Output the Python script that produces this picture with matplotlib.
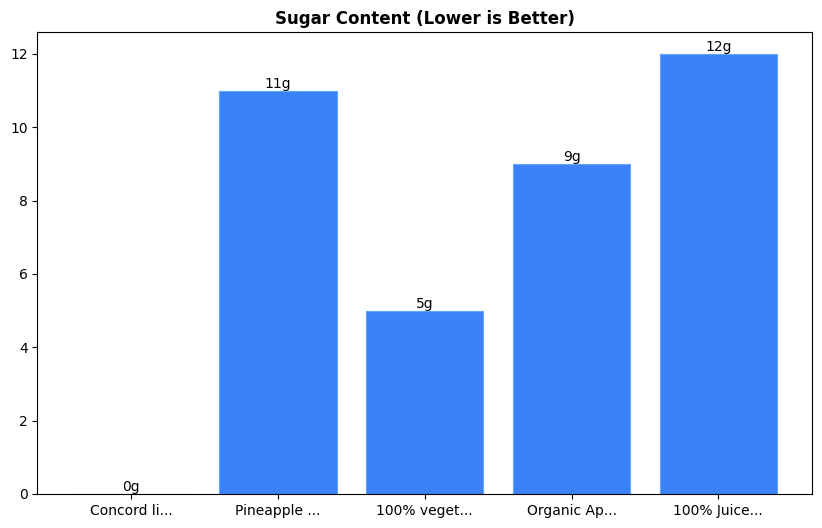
import matplotlib
matplotlib.use("Agg")
import matplotlib.pyplot as plt

# Chart data
products = ["Concord li...", "Pineapple ...", "100% veget...", "Organic Ap...", "100% Juice..."]
sugar = [0, 11, 5, 9, 12]

fig, ax = plt.subplots(figsize=(8.22, 5.28), dpi=100)
fig.subplots_adjust(left=0.0456, right=0.9880, top=0.9394, bottom=0.0644)

bars = ax.bar(range(len(products)), sugar, color="#3b82f6", edgecolor="#60a5fa", linewidth=0.8)

# Label each bar
for b, v in zip(bars, sugar):
    ax.text(b.get_x() + b.get_width() / 2, v, f"{v}g", ha="center", va="bottom", fontsize=10)

ax.set_xticks(range(len(products)))
ax.set_xticklabels(products)
ax.set_title("Sugar Content (Lower is Better)", fontweight="bold")

fig.savefig("out.png", dpi=100)
